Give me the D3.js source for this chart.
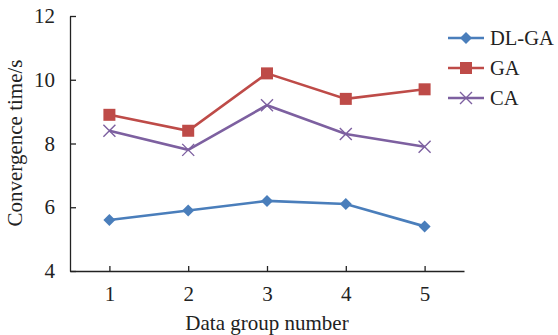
<!DOCTYPE html>
<html>
<head>
<meta charset="utf-8">
<script src="https://cdn.jsdelivr.net/npm/d3@7"></script>
<style>
  body { margin: 0; background: #fff; }
  text { font-family: "Liberation Serif", "Times New Roman", serif; fill: #222; }
</style>
</head>
<body>
<div id="chart"></div>
<script>
var w = 558, h = 335;

// data
var groups = [1, 2, 3, 4, 5];
var dlga = [5.6, 5.9, 6.2, 6.1, 5.4];
var ga = [8.9, 8.4, 10.2, 9.4, 9.7];
var ca = [8.4, 7.8, 9.2, 8.3, 7.9];
var yTicks = [4, 6, 8, 10, 12];
var seriesNames = ["DL-GA", "GA", "CA"];

var colors = ["#4a7ebb", "#be4b48", "#7d60a0"];
var shapes = ["diamond", "square", "cross"];

var mLeft = 70, mRight = 464, mTop = 16, mBottom = 271;

var svg = d3.select("#chart").append("svg").attr("width", w).attr("height", h);

var x = d3.scaleLinear().domain([0.5, 5.5]).range([mLeft, mRight]);
var y = d3.scaleLinear().domain([4, 12]).range([mBottom, mTop]);

var xAxis = svg.append("g").attr("transform", "translate(0," + mBottom + ")")
  .call(d3.axisBottom(x).tickValues(groups).tickFormat(d3.format("d")).tickSizeInner(-5).tickSizeOuter(0).tickPadding(15));
var yAxis = svg.append("g").attr("transform", "translate(" + mLeft + ",0)")
  .call(d3.axisLeft(y).tickValues(yTicks).tickSizeInner(-6).tickSizeOuter(0).tickPadding(15));

[xAxis, yAxis].forEach(function(a){
  a.select(".domain").attr("stroke", "#222").attr("stroke-width", 1.3);
  a.selectAll(".tick line").attr("stroke", "#222").attr("stroke-width", 1.3);
  a.selectAll(".tick text").attr("font-size", 21).attr("fill", "#222")
    .attr("font-family", "Liberation Serif");
});

svg.append("text").attr("x", 267).attr("y", 330).attr("text-anchor", "middle")
  .attr("font-size", 21).text("Data group number");
svg.append("text").attr("transform", "translate(22,143) rotate(-90)").attr("text-anchor", "middle")
  .attr("font-size", 21).text("Convergence time/s");

var line = d3.line().x(function(d, i){ return x(groups[i]); }).y(function(d){ return y(d); });

function marker(g, shape, color, cx, cy) {
  if (shape === "diamond") {
    g.append("path").attr("d", "M" + cx + "," + (cy - 6) + "L" + (cx + 6) + "," + cy + "L" + cx + "," + (cy + 6) + "L" + (cx - 6) + "," + cy + "Z")
      .attr("fill", color);
  } else if (shape === "square") {
    g.append("rect").attr("x", cx - 6).attr("y", cy - 6).attr("width", 12).attr("height", 12).attr("fill", color);
  } else {
    g.append("path").attr("d", "M" + (cx - 6) + "," + (cy - 6) + "L" + (cx + 6) + "," + (cy + 6) + "M" + (cx - 6) + "," + (cy + 6) + "L" + (cx + 6) + "," + (cy - 6))
      .attr("stroke", color).attr("stroke-width", 1.4).attr("fill", "none");
  }
}

var all = [dlga, ga, ca];
all.forEach(function(vals, k){
  var g = svg.append("g");
  g.append("path").datum(vals).attr("d", line).attr("fill", "none")
    .attr("stroke", colors[k]).attr("stroke-width", 2.6);
  vals.forEach(function(v, i){ marker(g, shapes[k], colors[k], x(groups[i]), y(v)); });
});

// legend
var legY = [38, 68, 98];
seriesNames.forEach(function(name, k){
  var g = svg.append("g");
  g.append("line").attr("x1", 448).attr("x2", 484).attr("y1", legY[k]).attr("y2", legY[k])
    .attr("stroke", colors[k]).attr("stroke-width", 2.6);
  marker(g, shapes[k], colors[k], 466, legY[k]);
  g.append("text").attr("x", 490).attr("y", legY[k] + 7).attr("font-size", 20.5).text(name);
});
</script>
</body>
</html>
